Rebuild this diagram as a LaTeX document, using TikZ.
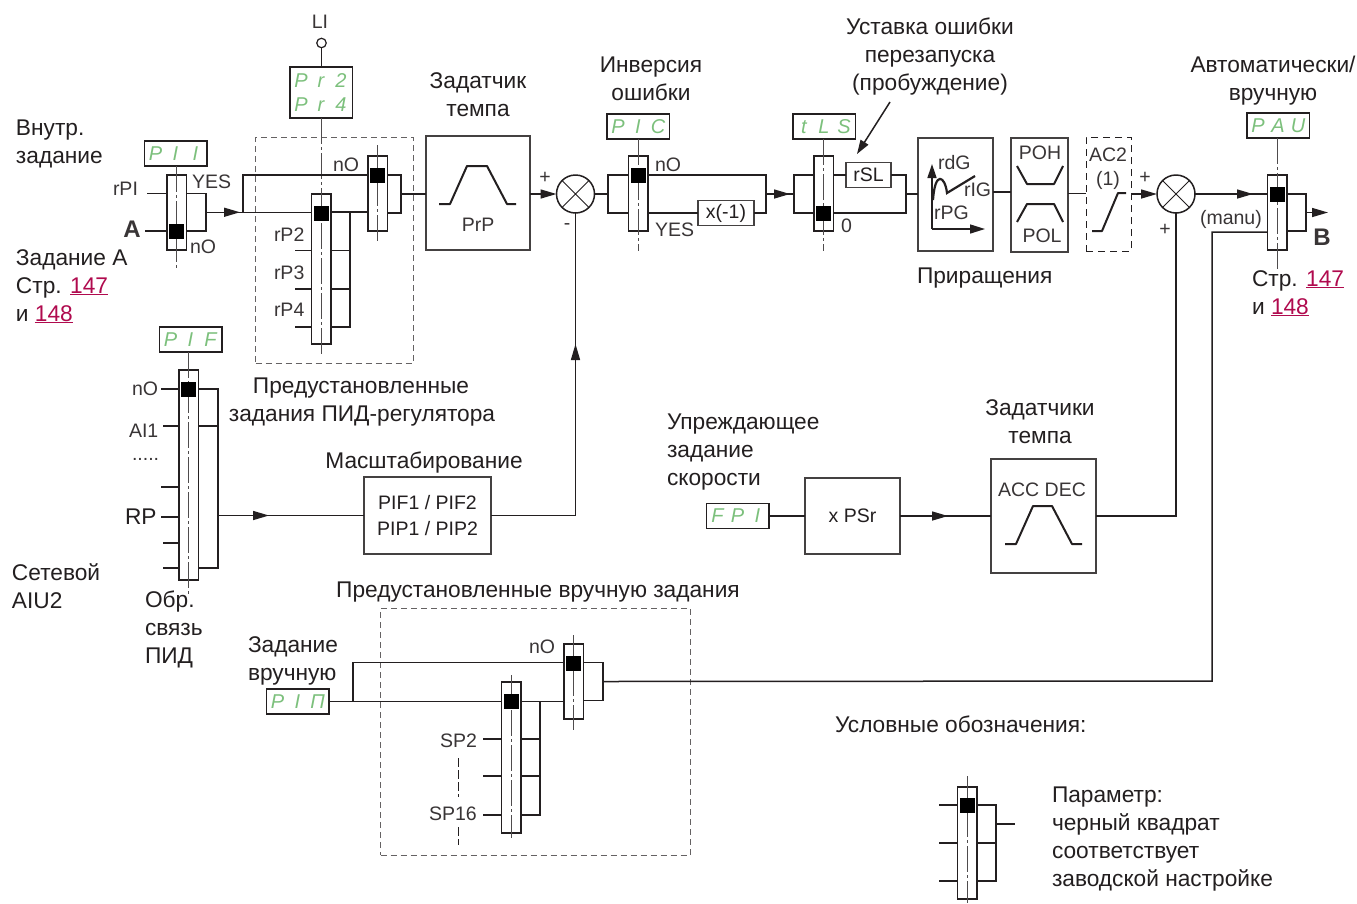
\documentclass[tikz,border=0pt]{standalone}
\usepackage{fontspec}
\setmainfont{Liberation Sans}
\usetikzlibrary{arrows.meta,decorations.markings}
\definecolor{ink}{HTML}{231F20}
\definecolor{linkc}{HTML}{B00A4E}
\definecolor{segc}{HTML}{7CC07C}
\tikzset{
  wire/.style={line width=1.5pt,draw=ink},
  thickw/.style={line width=2pt,draw=ink,line join=round},
  cline/.style={line width=0.9pt,draw=ink!80,dash pattern=on 26pt off 3pt on 3pt off 3pt},
  swbox/.style={rectangle,draw=ink,line width=1.5pt,inner sep=0pt,outer sep=0pt,minimum width=19.5pt},
  swsq/.style={rectangle,fill=black,inner sep=0pt,outer sep=0pt,minimum size=15pt},
  disp/.style={rectangle,draw=ink,line width=1.5pt,inner sep=0pt,outer sep=0pt,minimum width=62.5pt,minimum height=25pt,text=segc,font=\fontsize{20}{24}\selectfont\itshape,align=center},
  blockb/.style={rectangle,draw=ink!85,line width=1.5pt,inner sep=0pt,outer sep=0pt,text=ink,font=\fontsize{19.5}{26}\selectfont,align=center},
  sumn/.style={circle,draw=ink,line width=1.5pt,minimum size=38pt,inner sep=0pt,outer sep=0pt},
  dashg/.style={rectangle,draw=ink!70,line width=1pt,dash pattern=on 6pt off 4pt,inner sep=0pt,outer sep=0pt},
  txt/.style={inner sep=0pt,outer sep=0pt,text=ink,font=\fontsize{22.7}{28}\selectfont},
  lbl/.style={inner sep=0pt,outer sep=0pt,text=ink!90,font=\fontsize{19.5}{26}\selectfont},
  boldl/.style={inner sep=0pt,outer sep=0pt,text=ink!90,font=\fontsize{24}{28}\selectfont\bfseries},
  arrowmid/.style={postaction={decorate},decoration={markings,mark=at position #1 with {\arrow{Triangle[length=16pt,width=9pt]}}}},
  endarrow/.style={-{Triangle[length=16pt,width=9pt]}},
}
\newcommand{\seg}[3]{\makebox[20pt]{#1}\makebox[20pt]{#2}\makebox[20pt]{#3}}
\newcommand{\plink}[1]{\textcolor{linkc}{\underline{#1}}}
\newcommand{\tL}[4]{\node[txt,anchor=base west] (#1) at (#2,#3) {#4};}
\newcommand{\tC}[4]{\node[txt,anchor=base] (#1) at (#2,#3) {#4};}
\newcommand{\sL}[4]{\node[lbl,anchor=base west] (#1) at (#2,#3) {#4};}
\newcommand{\sC}[4]{\node[lbl,anchor=base] (#1) at (#2,#3) {#4};}
% name, centre x, box top, box bottom, line top, line bottom, square y
\newcommand{\swt}[7]{%
  \node[swbox,minimum height={#4-#3}] (#1) at (#2,{(#3+#4)/2}) {};
  \coordinate (#1-a) at (#2,#5);
  \coordinate (#1-b) at (#2,#6);
  \draw[cline] (#1-a) -- (#1-b);
  \node[swsq] (#1-sq) at (#2,#7) {};
}
% stub on the left: switch, id, free x, y
\newcommand{\stubL}[4]{\coordinate (#1-#2) at (#3,#4); \draw[wire] (#1-#2) -- (#1-#2 -| #1.west);}
\newcommand{\stubR}[4]{\coordinate (#1-#2) at (#3,#4); \draw[wire] (#1-#2 -| #1.east) -- (#1-#2);}
% comb on the right: switch, x, y top, y bottom
\newcommand{\combR}[4]{%
  \coordinate (#1-rt) at (#2,#3); \coordinate (#1-rb) at (#2,#4);
  \coordinate (#1-rm) at (#2,{(#3+#4)/2});
  \draw[wire] (#1-rt -| #1.east) -- (#1-rt) -- (#1-rb) -- (#1-rb -| #1.east);
}
\newcommand{\combL}[4]{%
  \coordinate (#1-lt) at (#2,#3); \coordinate (#1-lb) at (#2,#4);
  \coordinate (#1-lm) at (#2,{(#3+#4)/2});
  \draw[wire] (#1-lt -| #1.west) -- (#1-lt) -- (#1-lb) -- (#1-lb -| #1.west);
}
\begin{document}
\begin{tikzpicture}[x=1pt,y=-1pt]
\useasboundingbox[fill=white] (0,0) rectangle (1357,903);

% dashed frames
\node[dashg,minimum width=157.5pt,minimum height=226pt] (frameA) at (334.25,250) {};
\node[dashg,minimum width=309.5pt,minimum height=247pt] (frameB) at (535.25,731.5) {};
\node[rectangle,draw=ink,line width=1pt,dash pattern=on 7pt off 5pt,inner sep=0pt,outer sep=0pt,minimum width=45pt,minimum height=114pt] (ac2) at (1108.5,194) {};

% displays
\node[disp] (dPI1) at (175.5,153.5) {\seg{P}{I}{I}};
\node[disp,minimum height=51pt] (dPr) at (321,92.5) {\seg{P}{r}{2}\\\seg{P}{r}{4}};
\node[disp] (dPIF) at (190.5,339.5) {\seg{P}{I}{F}};
\node[disp] (dPIC) at (638,126.5) {\seg{P}{I}{C}};
\node[disp] (dTLS) at (824,126.5) {\seg{t}{L}{S}};
\node[disp] (dPAU) at (1278,125.5) {\seg{P}{A}{U}};
\node[disp] (dFPI) at (737.5,516) {\seg{F}{P}{I}};
\node[disp] (dPIN) at (297.5,701.5) {\seg{P}{I}{П}};

% LI input
\node[lbl,anchor=base] (tLI) at (320,28) {LI};
\node[circle,draw=ink,line width=1.2pt,minimum size=9.5pt,inner sep=0pt,outer sep=0pt] (li) at (321.5,43) {};
\draw[wire] (li) -- (li |- dPr.north);

% switches
\swt{sA}{176.5}{175}{250}{166}{269}{231.5}
\swt{sR}{321}{194}{344}{118}{355}{213.5}
\swt{sN}{377.5}{156}{231}{145}{242}{175.5}
\swt{sF}{188.5}{370}{580}{352}{595}{389.5}
\swt{sI}{638}{156}{231}{139}{251}{175.5}
\swt{sT}{823.5}{156}{231}{139}{251}{213.5}
\swt{sP}{1277}{175}{250}{138}{270}{194.5}
\swt{sS}{511}{682}{833}{675}{838}{701.5}
\swt{sM}{573.5}{644}{719}{635}{730}{663.5}
\swt{sL}{967}{787}{899}{776}{903}{805.5}

% blocks
\node[blockb,minimum width=104pt,minimum height=114pt] (prp) at (478,193) {};
\node[sumn] (sum1) at (575.5,194) {};
\node[sumn] (sum2) at (1176,194) {};
\foreach \s in {sum1,sum2}{\draw[line width=1pt,draw=ink] (\s.45) -- (\s.225) (\s.135) -- (\s.315);}
\node[blockb,minimum width=56pt,minimum height=25pt] (xm) at (726,213) {x(-1)};
\node[blockb,minimum width=45pt,minimum height=25pt] (rsl) at (868.5,175) {rSL};
\node[blockb,minimum width=75pt,minimum height=113pt] (rdg) at (955.5,194.5) {};
\node[blockb,minimum width=57pt,minimum height=114pt] (poh) at (1039.5,195) {};
\node[blockb,minimum width=127pt,minimum height=77pt] (sc) at (427.5,515.5) {PIF1 / PIF2\\PIP1 / PIP2};
\node[blockb,minimum width=95pt,minimum height=76pt] (psr) at (852.5,516) {x PSr};
\node[blockb,minimum width=105pt,minimum height=114pt] (acc) at (1043.5,516) {};

% switch A
\stubL{sA}{rpi}{147}{193.5}
\stubL{sA}{a}{145}{231}
\combR{sA}{206}{193.5}{231}
\coordinate (busB) at (243,212);
\coordinate (busT) at (243,175);
\draw[wire,arrowmid=34pt] (sA-rm) -- (sA-rm -| sR.west);
\draw[wire] (busB) -- (busT) -- (busT -| sN.west);

% switch rP
\stubL{sR}{l1}{295}{250.5}
\stubL{sR}{l2}{295}{289}
\stubL{sR}{l3}{295}{327}
\combR{sR}{350}{212}{327}
\stubR{sR}{r1}{350}{250.5}
\stubR{sR}{r2}{350}{289}
\draw[wire] (sR.east |- sR-rt) -- (sR-rt -| sN.west);

% switch nO
\combR{sN}{401}{175}{213}
\draw[wire] (sN-rm) -- (sN-rm -| prp.west);

% ramp PrP
\coordinate (r1a) at (439,204); \coordinate (r1b) at (450,204); \coordinate (r1c) at (467,166);
\coordinate (r1d) at (487,166); \coordinate (r1e) at (507,204); \coordinate (r1f) at (516,204);
\draw[thickw] (r1a) -- (r1b) -- (r1c) -- (r1d) -- (r1e) -- (r1f);

% sum 1
\draw[wire,endarrow] (sum1.west -| prp.east) -- (sum1.west);
\combL{sI}{608}{175}{213}
\draw[wire] (sum1.east) -- (sI-lm);
\coordinate (m1) at (766,175); \coordinate (m2) at (766,213); \coordinate (m3) at (766,194);
\draw[wire] (m1 -| sI.east) -- (m1) -- (m2) -- (xm.east);
\draw[wire] (m2 -| sI.east) -- (xm.west);
\combL{sT}{794}{175}{213}
\draw[wire,arrowmid=24pt] (m3) -- (sT-lm);

% switch T
\coordinate (t1) at (906,175); \coordinate (t2) at (906,213); \coordinate (t3) at (906,194);
\draw[wire] (rsl.west -| sT.east) -- (rsl.west);
\draw[wire] (rsl.east) -- (t1) -- (t2) -- (t2 -| sT.east);
\draw[wire] (t3) -- (t3 -| rdg.west);
\coordinate (ua) at (890,102); \coordinate (ub) at (857,154);
\draw[wire,-{Triangle[length=14pt,width=9pt]}] (ua) -- (ub);

% gains
\coordinate (ga) at (932,229); \coordinate (gu) at (932,164); \coordinate (gr) at (985,229);
\draw[wire,-{Triangle[length=14pt,width=9pt]}] (ga) -- (gu);
\draw[wire,-{Triangle[length=15pt,width=9pt]}] (ga) -- (gr);
\draw[line width=2.2pt,draw=ink] (933,200) .. controls (935,170) and (945,176) .. (947,193) -- (975,176);

% POH / POL
\coordinate (c1) at (1002,192);
\draw[wire] (c1 -| rdg.east) -- (c1 -| poh.west);
\draw[thickw] (1017,166) -- (1027,184) -- (1054,184) -- (1063,166);
\draw[thickw] (1017,222) -- (1027,204) -- (1054,204) -- (1063,222);
\coordinate (c2) at (1077,193.5);
\draw[wire] (c2 -| poh.east) -- (c2 -| ac2.west);
\draw[thickw] (1092,231) -- (1102,231) -- (1118,193) -- (1126,193);
\draw[wire,endarrow] (sum2.west -| ac2.east) -- (sum2.west);

% output
\draw[wire,arrowmid=58pt] (sum2.east) -- (sum2.east -| sP.west);
\combR{sP}{1306}{194}{231}
\coordinate (bout) at (1328,212.5);
\draw[wire,-{Triangle[length=16pt,width=9pt]}] (sP-rm) -- (bout);
\coordinate (mn1) at (1212,232); \coordinate (mn2) at (1212,681);

% switch F
\stubL{sF}{a}{161}{389}
\stubL{sF}{b}{163}{426}
\stubL{sF}{c}{161}{487}
\stubL{sF}{d}{161}{517}
\stubL{sF}{e}{163}{543}
\stubL{sF}{f}{163}{568}
\combR{sF}{218}{389}{568}
\stubR{sF}{g}{218}{426}
\coordinate (fo) at (218,515.5);
\draw[wire,arrowmid=51pt] (fo) -- (fo -| sc.west);
\draw[wire,arrowmid=256pt] (sc.east) -- (sc.east -| sum1.south) -- (sum1.south);

% feed-forward
\draw[wire] (dFPI.east) -- (psr.west);
\draw[wire,arrowmid=48pt] (psr.east) -- (acc.west);
\draw[wire] (acc.east) -- (acc.east -| sum2.south) -- (sum2.south);
\draw[thickw] (1005,544) -- (1016,544) -- (1033,506) -- (1052,506) -- (1072,544) -- (1082,544);

% manual
\coordinate (pj) at (353,701.5); \coordinate (pk) at (353,662.5);
\draw[wire] (dPIN.east) -- (pj -| sS.west);
\draw[wire] (pj) -- (pk) -- (pk -| sM.west);
\stubL{sS}{a}{483}{739}
\stubL{sS}{b}{483}{776}
\stubL{sS}{c}{483}{815}
\combR{sS}{540}{701.5}{815}
\stubR{sS}{d}{540}{739}
\stubR{sS}{e}{540}{776}
\draw[wire] (sS-rt -| sS.east) -- (sS-rt -| sM.west);
\combR{sM}{603}{662.5}{700.5}
\draw[wire] (mn1 -| sP.west) -- (mn1) -- (mn2) -- (sM-rm);
\coordinate (da) at (458,758); \coordinate (db) at (458,797);
\coordinate (dc) at (458,827); \coordinate (dd) at (458,845);
\draw[line width=0.9pt,draw=ink,dash pattern=on 9pt off 3pt] (da) -- (db) (dc) -- (dd);

% legend
\stubL{sL}{a}{939}{805}
\stubL{sL}{b}{939}{843}
\stubL{sL}{c}{939}{881}
\combR{sL}{996}{805}{881}
\stubR{sL}{d}{996}{843}
\coordinate (lj) at (996,824);
\coordinate (lo) at (1015,824);
\draw[wire] (lj) -- (lo);

% text
\tL{t1a}{16}{135}{Внутр.}
\tL{t1b}{16}{163}{задание}
\tL{t2a}{16}{265}{Задание A}
\tL{t2b}{16}{293}{Стр. \plink{147}}
\tL{t2c}{16}{321}{и \plink{148}}
\sL{lrpi}{113}{195}{rPI}
\node[boldl,anchor=base] (lA) at (132,237) {A};
\sL{lno1}{190}{253}{nO}
\sL{lyes1}{192}{188}{YES}
\sL{lno2}{333}{171}{nO}
\sL{lrp2}{274}{241}{rP2}
\sL{lrp3}{274}{279}{rP3}
\sL{lrp4}{274}{316}{rP4}
\tC{t3a}{478}{88}{Задатчик}
\tC{t3b}{478}{116}{темпа}
\sC{lprp}{478}{231}{PrP}
\sC{lp1}{545}{183}{+}
\sC{lm1}{567}{229}{-}
\tC{t4a}{651}{72}{Инверсия}
\tC{t4b}{651}{100}{ошибки}
\sL{lno4}{655}{171}{nO}
\sL{lyes4}{655}{236}{YES}
\sL{lz}{841}{232}{0}
\tC{t5a}{930}{34}{Уставка ошибки}
\tC{t5b}{930}{62}{перезапуска}
\tC{t5c}{930}{90}{(пробуждение)}
\sL{lrdg}{938}{169}{rdG}
\sL{lrig}{964}{196}{rIG}
\sL{lrpg}{934}{219}{rPG}
\sC{lpoh}{1040}{159}{POH}
\sC{lpol}{1042}{242}{POL}
\sC{lac}{1108}{161}{AC2}
\sC{lac1}{1108}{185}{(1)}
\sC{lp2}{1145}{183}{+}
\sC{lp3}{1165}{235}{+}
\tL{t6}{917}{283}{Приращения}
\tC{t7a}{1273}{72}{Автоматически/}
\tC{t7b}{1273}{100}{вручную}
\sL{lman}{1200}{224}{(manu)}
\node[boldl,anchor=base] (lB) at (1322,245) {B};
\tL{t8a}{1252}{286}{Стр. \plink{147}}
\tL{t8b}{1252}{314}{и \plink{148}}
\sL{lno7}{132}{395}{nO}
\sL{lai}{129}{437}{AI1}
\sL{ldots}{132}{460}{.....}
\tL{lrpp}{125}{524}{RP}
\tC{t9a}{361}{393}{Предустановленные}
\tC{t9b}{362}{421}{задания ПИД-регулятора}
\tC{t10}{424}{468}{Масштабирование}
\tL{t11a}{12}{580}{Сетевой}
\tL{t11b}{12}{608}{AIU2}
\tL{t12a}{145}{607}{Обр.}
\tL{t12b}{145}{635}{связь}
\tL{t12c}{145}{663}{ПИД}
\tL{t13a}{667}{429}{Упреждающее}
\tL{t13b}{667}{457}{задание}
\tL{t13c}{667}{485}{скорости}
\tC{t14a}{1040}{415}{Задатчики}
\tC{t14b}{1040}{443}{темпа}
\sC{lacc}{1042}{496}{ACC DEC}
\tC{t15}{538}{597}{Предустановленные вручную задания}
\tL{t16a}{248}{652}{Задание}
\tL{t16b}{248}{680}{вручную}
\sL{lno9}{529}{653}{nO}
\sL{lsp2}{440}{747}{SP2}
\sL{lsp16}{429}{820}{SP16}
\tL{t17}{835}{732}{Условные обозначения:}
\tL{t18a}{1052}{802}{Параметр:}
\tL{t18b}{1052}{830}{черный квадрат}
\tL{t18c}{1052}{858}{соответствует}
\tL{t18d}{1052}{886}{заводской настройке}
\end{tikzpicture}
\end{document}
